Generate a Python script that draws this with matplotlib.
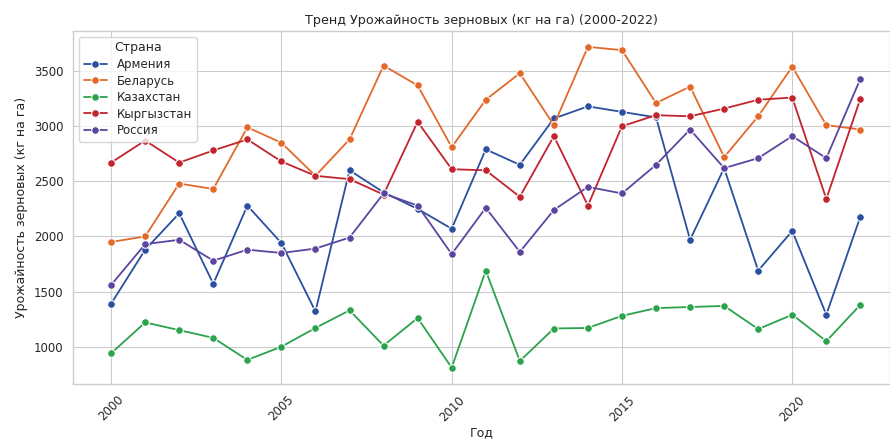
import matplotlib
matplotlib.use("Agg")
import matplotlib.pyplot as plt
import seaborn as sns
import pandas as pd

years = list(range(2000, 2023))

armenia = [1390, 1880, 2210, 1570, 2280, 1940, 1320, 2600, 2400, 2250, 2070, 2790,
           2650, 3070, 3180, 3130, 3080, 1970, 2620, 1690, 2050, 1290, 2180]
belarus = [1950, 2000, 2480, 2430, 2990, 2850, 2550, 2880, 3550, 3370, 2810, 3240,
           3480, 3010, 3720, 3690, 3210, 3360, 2720, 3090, 3540, 3010, 2970]
kazakhstan = [940, 1220, 1150, 1080, 880, 1000, 1170, 1330, 1010, 1260, 810, 1690,
              870, 1165, 1170, 1280, 1350, 1360, 1370, 1160, 1290, 1050, 1380]
kyrgyzstan = [2670, 2870, 2670, 2780, 2880, 2680, 2550, 2520, 2380, 3040, 2610, 2600,
              2360, 2910, 2280, 3000, 3100, 3090, 3160, 3240, 3260, 2340, 3250]
russia = [1560, 1930, 1970, 1780, 1880, 1850, 1890, 1990, 2390, 2280, 1840, 2260,
          1860, 2240, 2450, 2390, 2650, 2970, 2620, 2710, 2910, 2710, 3430]

countries = ['Армения', 'Беларусь', 'Казахстан', 'Кыргызстан', 'Россия']
colors = ['#2a4f9f', '#e3692b', '#2ba24c', '#c1242c', '#5c459f']

rows = []
for name, vals in zip(countries, [armenia, belarus, kazakhstan, kyrgyzstan, russia]):
    for y, v in zip(years, vals):
        rows.append({'Год': y, 'Урожайность': v, 'Страна': name})
df = pd.DataFrame(rows)

sns.set_style("whitegrid")
plt.rcParams['font.family'] = ['DejaVu Sans']
plt.rcParams['grid.linewidth'] = 0.8
plt.rcParams['axes.linewidth'] = 1.0

fig = plt.figure(figsize=(8.9, 4.4), dpi=100)
ax = fig.add_axes([0.082, 0.128, 0.918, 0.802])

sns.lineplot(data=df, x='Год', y='Урожайность', hue='Страна', palette=colors,
             marker='o', markersize=5.5, linewidth=1.3, ax=ax)

ax.set_title('Тренд Урожайность зерновых (кг на га) (2000-2022)', fontsize=9.2, pad=5)
ax.set_xlabel('Год', fontsize=9, labelpad=2)
ax.set_ylabel('Урожайность зерновых (кг на га)', fontsize=9, labelpad=4)
ax.set_xlim(1998.88, 2022.87)
ax.set_xticks([2000, 2005, 2010, 2015, 2020])
ax.tick_params(labelsize=8.5)
plt.setp(ax.get_xticklabels(), rotation=45)
ax.legend(title='Страна', loc='upper left', fontsize=8.5, title_fontsize=9,
          labelspacing=0.3)

fig.savefig('out.png', dpi=100)
